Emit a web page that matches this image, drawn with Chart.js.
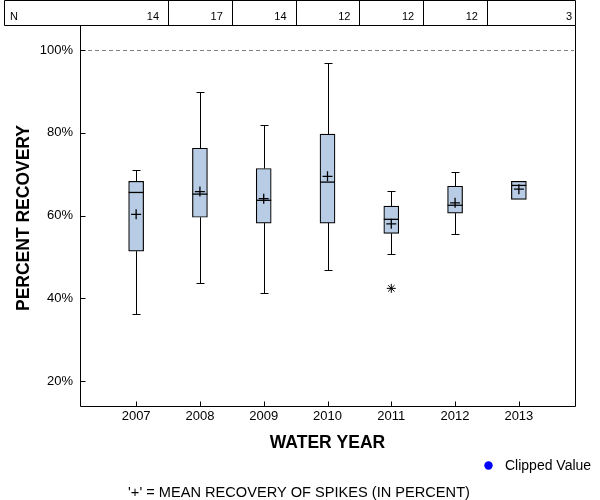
<!DOCTYPE html>
<html>
<head>
<meta charset="utf-8">
<script src="https://cdn.jsdelivr.net/npm/chart.js@4"></script>
<style>
  html, body { margin: 0; padding: 0; background: #ffffff; }
  #wrap { width: 600px; height: 500px; position: relative; }
</style>
</head>
<body>
<div id="wrap"><canvas id="c" width="600" height="500"></canvas></div>
<script>
// ---- data ----
const years        = [2007, 2008, 2009, 2010, 2011, 2012, 2013];
const nCounts      = [14, 17, 14, 12, 12, 12, 3];
const whiskerLow   = [36.1, 43.6, 41.4, 46.8, 50.6, 55.5, null];
const quart1       = [51.4, 59.6, 58.2, 58.2, 55.7, 60.6, 63.9];
const medians      = [65.6, 65.2, 63.7, 68.1, 59.1, 62.5, 67.3];
const quart3       = [68.3, 76.3, 71.4, 79.7, 62.3, 67.1, 68.3];
const whiskerHigh  = [71.0, 89.8, 81.8, 96.9, 66.0, 70.6, null];
const means        = [60.3, 65.8, 64.1, 69.5, 58.0, 63.1, 66.4];
const outlierYears = [2011];
const outlierVals  = [42.4];
const clippedVals  = [];
const yTicks       = [20, 40, 60, 80, 100];
const referenceLine = 100;
const nLabel = 'N';
const xTitle = 'WATER YEAR';
const yTitle = 'PERCENT RECOVERY';
const footNote = "'+' = MEAN RECOVERY OF SPIKES (IN PERCENT)";
const clippedLabel = 'Clipped Value';

const FONT = '"Liberation Sans", Arial, Helvetica, sans-serif';

const decorPlugin = {
  id: 'decor',
  beforeDatasetsDraw(chart) {
    const ctx = chart.ctx;
    const xs = chart.scales.x, ys = chart.scales.y;
    const ca = chart.chartArea;
    ctx.save();
    // reference dashed line
    const yr = Math.round(ys.getPixelForValue(referenceLine)) + 0.5;
    ctx.strokeStyle = '#808080';
    ctx.lineWidth = 1;
    ctx.setLineDash([4, 3]);
    ctx.beginPath();
    ctx.moveTo(ca.left + 1, yr);
    ctx.lineTo(ca.right - 1, yr);
    ctx.stroke();
    ctx.setLineDash([]);
    // whiskers
    ctx.strokeStyle = '#000';
    ctx.lineWidth = 1;
    years.forEach((yv, i) => {
      if (whiskerLow[i] == null || whiskerHigh[i] == null) return;
      const px = Math.round(xs.getPixelForValue(yv)) + 0.5;
      const pLo = Math.round(ys.getPixelForValue(whiskerLow[i])) + 0.5;
      const pQ1 = ys.getPixelForValue(quart1[i]);
      const pQ3 = ys.getPixelForValue(quart3[i]);
      const pHi = Math.round(ys.getPixelForValue(whiskerHigh[i])) + 0.5;
      ctx.beginPath();
      ctx.moveTo(px, pLo); ctx.lineTo(px, pQ1);
      ctx.moveTo(px, pQ3); ctx.lineTo(px, pHi);
      ctx.moveTo(px - 4, pLo); ctx.lineTo(px + 4, pLo);
      ctx.moveTo(px - 4, pHi); ctx.lineTo(px + 4, pHi);
      ctx.stroke();
    });
    ctx.restore();
  },
  afterDraw(chart) {
    const ctx = chart.ctx;
    const xs = chart.scales.x, ys = chart.scales.y;
    const ca = chart.chartArea;
    ctx.save();
    ctx.strokeStyle = '#000';
    ctx.lineWidth = 1;
    const L = Math.round(ca.left) + 0.5, R = Math.round(ca.right) + 0.5;
    const T = Math.round(ca.top) + 0.5, B = Math.round(ca.bottom) + 0.5;
    // plot frame
    ctx.beginPath();
    ctx.moveTo(L, T); ctx.lineTo(L, B); ctx.lineTo(R, B); ctx.lineTo(R, T);
    ctx.stroke();
    // inside ticks
    ctx.beginPath();
    yTicks.forEach(v => {
      const py = Math.round(ys.getPixelForValue(v)) + 0.5;
      ctx.moveTo(L, py); ctx.lineTo(L + 5, py);
    });
    years.forEach(v => {
      const px = Math.round(xs.getPixelForValue(v)) + 0.5;
      ctx.moveTo(px, B); ctx.lineTo(px, B - 5);
    });
    ctx.stroke();
    // N table
    const tL = 4.5, tT = 0.5, tB = T;
    ctx.beginPath();
    ctx.moveTo(tL, tB); ctx.lineTo(tL, tT); ctx.lineTo(R, tT); ctx.lineTo(R, tB); ctx.lineTo(tL, tB);
    for (let i = 0; i < years.length - 1; i++) {
      const bx = Math.round(xs.getPixelForValue((years[i] + years[i + 1]) / 2)) + 0.5;
      ctx.moveTo(bx, tT); ctx.lineTo(bx, tB);
    }
    ctx.stroke();
    ctx.fillStyle = '#000';
    ctx.font = '11px ' + FONT;
    ctx.textBaseline = 'alphabetic';
    ctx.textAlign = 'left';
    ctx.fillText(nLabel, 10, 19.5);
    ctx.textAlign = 'right';
    years.forEach((yv, i) => {
      let rx;
      if (i < years.length - 1) {
        rx = xs.getPixelForValue((years[i] + years[i + 1]) / 2) - 9;
      } else {
        rx = ca.right - 3;
      }
      ctx.fillText(String(nCounts[i]), rx, 19.5);
    });
    // axis titles
    ctx.font = 'bold 17.5px ' + FONT;
    ctx.textAlign = 'center';
    ctx.textBaseline = 'middle';
    ctx.fillText(xTitle, (ca.left + ca.right) / 2, 443);
    ctx.save();
    ctx.translate(24, 218);
    ctx.rotate(-Math.PI / 2);
    ctx.fillText(yTitle, 0, 0);
    ctx.restore();
    // legend for clipped values
    const clipDs = chart.data.datasets.find(d => d.label === clippedLabel);
    ctx.fillStyle = clipDs ? clipDs.pointBackgroundColor : '#0000ff';
    ctx.beginPath();
    ctx.arc(488.5, 465.5, 4.2, 0, Math.PI * 2);
    ctx.fill();
    ctx.fillStyle = '#000';
    ctx.font = '14px ' + FONT;
    ctx.textAlign = 'left';
    ctx.fillText(clippedLabel, 505, 466);
    // footnote
    ctx.font = '14.6px ' + FONT;
    ctx.textAlign = 'center';
    ctx.fillText(footNote, 299, 492.5);
    ctx.restore();
  }
};

const boxData = years.map((y, i) => ({ x: y, y: [quart1[i], quart3[i]] }));
const medData = years.map((y, i) => ({ x: y, y: medians[i] }));
const meanData = years.map((y, i) => ({ x: y, y: means[i] }));
const outData = outlierYears.map((y, i) => ({ x: y, y: outlierVals[i] }));
const clipData = clippedVals.map(v => v);

new Chart(document.getElementById('c'), {
  type: 'bar',
  data: {
    datasets: [
      {
        type: 'scatter', label: 'Mean', data: meanData, order: 0,
        pointStyle: 'cross', pointRadius: 5, pointHoverRadius: 5,
        borderColor: '#000', backgroundColor: '#000', pointBorderWidth: 1.3
      },
      {
        type: 'scatter', label: 'Median', data: medData, order: 1,
        pointStyle: 'line', pointRadius: 7.5, pointHoverRadius: 7.5,
        borderColor: '#000', backgroundColor: '#000', pointBorderWidth: 1.3
      },
      {
        type: 'scatter', label: 'Outlier', data: outData, order: 1,
        pointStyle: 'star', pointRadius: 4.5, pointHoverRadius: 4.5,
        borderColor: '#000', backgroundColor: '#000', pointBorderWidth: 1
      },
      {
        type: 'scatter', label: clippedLabel, data: clipData, order: 1,
        pointStyle: 'circle', pointRadius: 4, pointBackgroundColor: '#0000ff',
        borderColor: '#0000ff', backgroundColor: '#0000ff'
      },
      {
        type: 'bar', label: 'Interquartile range', data: boxData, order: 2,
        backgroundColor: 'rgb(184,205,229)', borderColor: '#000', borderWidth: 1.2,
        borderSkipped: false, barThickness: 15, grouped: false
      }
    ]
  },
  options: {
    responsive: false,
    animation: false,
    events: [],
    layout: { padding: { left: 0, top: 25, right: 25, bottom: 64 } },
    plugins: { legend: { display: false }, tooltip: { enabled: false } },
    scales: {
      x: {
        type: 'linear', offset: false,
        min: 2006.12, max: 2013.88,
        afterBuildTicks: s => { s.ticks = years.map(v => ({ value: v })); },
        afterFit: s => { s.height = 30; },
        grid: { display: false, drawTicks: false },
        border: { display: false },
        ticks: {
          padding: 3, color: '#000', maxRotation: 0, autoSkip: false,
          font: { family: FONT, size: 13 },
          callback: v => String(v)
        }
      },
      y: {
        type: 'linear',
        min: 13.95, max: 106.1,
        afterBuildTicks: s => { s.ticks = yTicks.map(v => ({ value: v })); },
        afterFit: s => { s.width = 80; },
        grid: { display: false, drawTicks: false },
        border: { display: false },
        ticks: {
          padding: 7, color: '#000',
          font: { family: FONT, size: 13 },
          callback: v => v + '%'
        }
      }
    }
  },
  plugins: [decorPlugin]
});
</script>
</body>
</html>
